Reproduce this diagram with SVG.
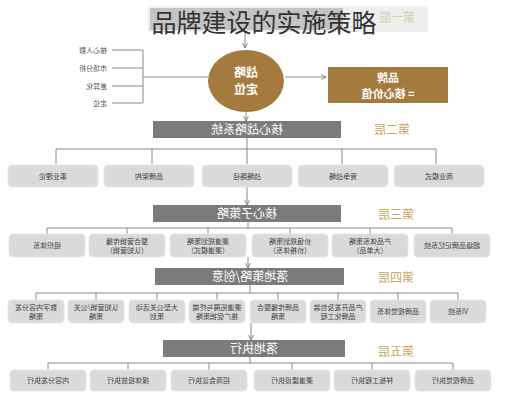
<svg xmlns="http://www.w3.org/2000/svg" width="527" height="400" viewBox="0 0 527 400">
<style>
text{font-family:"Noto Sans CJK SC","Liberation Sans",sans-serif}
.ln{stroke:#8a8a8a;stroke-width:1;fill:none}
.bar{fill:#7b7b7b}
.bt{fill:#fff;font-size:12px;text-anchor:middle}
.box{fill:#dadada;stroke:#e6e6e6;stroke-width:1}
.t{fill:#444;font-size:7px;text-anchor:middle}
.lab{fill:#c4a95e;font-size:12px;text-anchor:middle}
.side{fill:#555;font-size:7px;text-anchor:start}
.wt{fill:#fff;font-size:12px;font-weight:bold;text-anchor:middle}
</style>
<defs>
<marker id="ar" viewBox="0 0 10 10" refX="9" refY="5" markerWidth="6" markerHeight="6" orient="auto"><path d="M1 1L9 5L1 9" fill="none" stroke="#777" stroke-width="1.5"/></marker>
</defs>
<rect width="527" height="400" fill="#fff"/>

<g id="connectors">
<line class="ln" x1="245" y1="30" x2="245" y2="48" marker-end="url(#ar)"/>
<line class="ln" x1="112" y1="50" x2="143" y2="50"/>
<line class="ln" x1="112" y1="68" x2="143" y2="68"/>
<line class="ln" x1="112" y1="86" x2="143" y2="86"/>
<line class="ln" x1="112" y1="103" x2="143" y2="103"/>
<line class="ln" x1="143" y1="50" x2="143" y2="103"/>
<line class="ln" x1="143" y1="77" x2="208" y2="77"/>
<line class="ln" x1="285" y1="77" x2="326" y2="77" marker-end="url(#ar)"/>
<line class="ln" x1="246" y1="112" x2="246" y2="121" marker-end="url(#ar)"/>
<path class="ln" d="M247 138V149M56 164V149H436V164M152 149V164M247 149V164M342 149V164"/>
<line class="ln" x1="247" y1="187" x2="247" y2="205" marker-end="url(#ar)"/>
<path class="ln" d="M248 222V228M47 234V228H452V234M127 228V234M208 228V234M290 228V234M370 228V234"/>
<line class="ln" x1="248" y1="257" x2="248" y2="268" marker-end="url(#ar)"/>
<path class="ln" d="M250 285V293M36 300V293H458V300M96 293V300M157 293V300M217 293V300M278 293V300M338 293V300M398 293V300"/>
<line class="ln" x1="251" y1="323" x2="251" y2="340" marker-end="url(#ar)"/>
<path class="ln" d="M250 357V363M48 370V363H453V370M128 363V370M209 363V370M292 363V370M372 363V370"/>
</g>

<g id="level1">
<rect x="148" y="6" width="280" height="26" fill="#eeeeee"/>
<rect x="150" y="8" width="193" height="22" fill="#c4c4c4"/>
<text x="397" y="22" transform="matrix(-1 0 0 1 794 0)" style="fill:#d9cfa8;font-size:12px;text-anchor:middle">第一层</text>
<text x="264" y="32" style="fill:#333;font-size:25px;text-anchor:middle">品牌建设的实施策略</text>
</g>

<g id="side-list">
<text class="side" x="107" y="52.5" transform="matrix(-1 0 0 1 214 0)">核心人群</text>
<text class="side" x="107" y="70.5" transform="matrix(-1 0 0 1 214 0)">市场分析</text>
<text class="side" x="107" y="88.5" transform="matrix(-1 0 0 1 214 0)">差异化</text>
<text class="side" x="107" y="105.5" transform="matrix(-1 0 0 1 214 0)">定位</text>
</g>

<g id="strategy-ellipse">
<ellipse cx="246" cy="81" rx="38" ry="31" fill="#a47b3d"/>
<text class="wt" x="246" y="77" transform="matrix(-1 0 0 1 492 0)">战略</text>
<text class="wt" x="246" y="94" transform="matrix(-1 0 0 1 492 0)">定位</text>
</g>

<g id="brand-value">
<rect x="328" y="67" width="120" height="36" fill="#a47b3d"/>
<text class="wt" x="388" y="82" transform="matrix(-1 0 0 1 776 0)" style="font-size:11px">品牌</text>
<text class="wt" x="388" y="98" transform="matrix(-1 0 0 1 776 0)" style="font-size:11px">= 核心价值</text>
</g>

<g id="level2">
<rect class="bar" x="153" y="121" width="188" height="17"/>
<text class="bt" x="247" y="134" transform="matrix(-1 0 0 1 494 0)">核心战略系统</text>
<text class="lab" x="392" y="134" transform="matrix(-1 0 0 1 784 0)">第二层</text>
</g>
<g id="l2-boxes">
<rect class="box" x="8" y="165" width="90" height="22" rx="4"/><text class="t" x="53" y="178.5" transform="matrix(-1 0 0 1 106 0)">事业理论</text>
<rect class="box" x="104" y="165" width="90" height="22" rx="4"/><text class="t" x="149" y="178.5" transform="matrix(-1 0 0 1 298 0)">品牌架构</text>
<rect class="box" x="202" y="165" width="90" height="22" rx="4"/><text class="t" x="247" y="178.5" transform="matrix(-1 0 0 1 494 0)">战略路径</text>
<rect class="box" x="298" y="165" width="90" height="22" rx="4"/><text class="t" x="343" y="178.5" transform="matrix(-1 0 0 1 686 0)">竞争战略</text>
<rect class="box" x="394" y="165" width="90" height="22" rx="4"/><text class="t" x="439" y="178.5" transform="matrix(-1 0 0 1 878 0)">商业模式</text>
</g>

<g id="level3">
<rect class="bar" x="153" y="205" width="188" height="17"/>
<text class="bt" x="247" y="218" transform="matrix(-1 0 0 1 494 0)">核心子策略</text>
<text class="lab" x="396" y="219" transform="matrix(-1 0 0 1 792 0)">第三层</text>
</g>
<g id="l3-boxes">
<rect class="box" x="9" y="234" width="76" height="23" rx="4"/><text class="t" x="47" y="248" transform="matrix(-1 0 0 1 94 0)">组织体系</text>
<rect class="box" x="89" y="234" width="76" height="23" rx="4"/><text class="t" x="127" y="244" transform="matrix(-1 0 0 1 254 0)">整合营销传播</text><text class="t" x="127" y="253" transform="matrix(-1 0 0 1 254 0)">（认知营销）</text>
<rect class="box" x="170" y="234" width="76" height="23" rx="4"/><text class="t" x="208" y="244" transform="matrix(-1 0 0 1 416 0)">渠道规划策略</text><text class="t" x="208" y="253" transform="matrix(-1 0 0 1 416 0)">（渠道模式）</text>
<rect class="box" x="252" y="234" width="76" height="23" rx="4"/><text class="t" x="290" y="244" transform="matrix(-1 0 0 1 580 0)">价值规划策略</text><text class="t" x="290" y="253" transform="matrix(-1 0 0 1 580 0)">（价格体系）</text>
<rect class="box" x="332" y="234" width="76" height="23" rx="4"/><text class="t" x="370" y="244" transform="matrix(-1 0 0 1 740 0)">产品体系策略</text><text class="t" x="370" y="253" transform="matrix(-1 0 0 1 740 0)">（大单品）</text>
<rect class="box" x="414" y="234" width="76" height="23" rx="4"/><text class="t" x="452" y="248" transform="matrix(-1 0 0 1 904 0)">超级品牌记忆系统</text>
</g>

<g id="level4">
<rect class="bar" x="155" y="268" width="189" height="17"/>
<text class="bt" x="250" y="281" transform="matrix(-1 0 0 1 500 0)">落地策略/创意</text>
<text class="lab" x="396" y="282" transform="matrix(-1 0 0 1 792 0)">第四层</text>
</g>
<g id="l4-boxes">
<rect class="box" x="8" y="300" width="56" height="23" rx="4"/><text class="t" x="36" y="310" transform="matrix(-1 0 0 1 72 0)">数字内容分发</text><text class="t" x="36" y="319" transform="matrix(-1 0 0 1 72 0)">策略</text>
<rect class="box" x="68" y="300" width="56" height="23" rx="4"/><text class="t" x="96" y="310" transform="matrix(-1 0 0 1 192 0)">认知营销/公关</text><text class="t" x="96" y="319" transform="matrix(-1 0 0 1 192 0)">策略</text>
<rect class="box" x="129" y="300" width="56" height="23" rx="4"/><text class="t" x="157" y="310" transform="matrix(-1 0 0 1 314 0)">大型公关活动</text><text class="t" x="157" y="319" transform="matrix(-1 0 0 1 314 0)">策划</text>
<rect class="box" x="189" y="300" width="56" height="23" rx="4"/><text class="t" x="217" y="310" transform="matrix(-1 0 0 1 434 0)">渠道拓展与终端</text><text class="t" x="217" y="319" transform="matrix(-1 0 0 1 434 0)">推广促销策略</text>
<rect class="box" x="250" y="300" width="56" height="23" rx="4"/><text class="t" x="278" y="310" transform="matrix(-1 0 0 1 556 0)">品牌传播整合</text><text class="t" x="278" y="319" transform="matrix(-1 0 0 1 556 0)">策略</text>
<rect class="box" x="310" y="300" width="56" height="23" rx="4"/><text class="t" x="338" y="310" transform="matrix(-1 0 0 1 676 0)">产品开发及包装</text><text class="t" x="338" y="319" transform="matrix(-1 0 0 1 676 0)">品牌化工程</text>
<rect class="box" x="370" y="300" width="56" height="23" rx="4"/><text class="t" x="398" y="314" transform="matrix(-1 0 0 1 796 0)">品牌视觉体系</text>
<rect class="box" x="430" y="300" width="56" height="23" rx="4"/><text class="t" x="458" y="314" transform="matrix(-1 0 0 1 916 0)">VI系统</text>
</g>

<g id="level5">
<rect class="bar" x="163" y="340" width="182" height="17"/>
<text class="bt" x="254" y="353" transform="matrix(-1 0 0 1 508 0)">落地执行</text>
<text class="lab" x="396" y="356" transform="matrix(-1 0 0 1 792 0)">第五层</text>
</g>
<g id="l5-boxes">
<rect class="box" x="10" y="370" width="76" height="21" rx="4"/><text class="t" x="48" y="383" transform="matrix(-1 0 0 1 96 0)">内容分发执行</text>
<rect class="box" x="90" y="370" width="76" height="21" rx="4"/><text class="t" x="128" y="383" transform="matrix(-1 0 0 1 256 0)">媒体投放执行</text>
<rect class="box" x="171" y="370" width="76" height="21" rx="4"/><text class="t" x="209" y="383" transform="matrix(-1 0 0 1 418 0)">招商会议执行</text>
<rect class="box" x="254" y="370" width="76" height="21" rx="4"/><text class="t" x="292" y="383" transform="matrix(-1 0 0 1 584 0)">渠道建设执行</text>
<rect class="box" x="334" y="370" width="76" height="21" rx="4"/><text class="t" x="372" y="383" transform="matrix(-1 0 0 1 744 0)">样板工程执行</text>
<rect class="box" x="415" y="370" width="76" height="21" rx="4"/><text class="t" x="453" y="383" transform="matrix(-1 0 0 1 906 0)">品牌视觉执行</text>
</g>
</svg>
